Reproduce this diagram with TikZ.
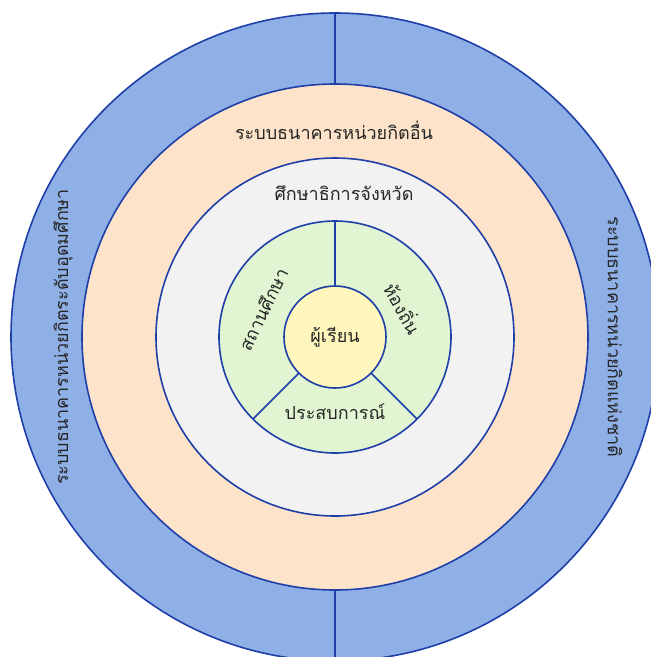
\documentclass[tikz,border=0pt]{standalone}
\usepackage{fontspec}
\newfontfamily\thai[Script=Thai]{Loma}
\definecolor{ringblue}{HTML}{8FB0E6}
\definecolor{ringpeach}{HTML}{FDE3C9}
\definecolor{ringgray}{HTML}{F2F2F2}
\definecolor{ringgreen}{HTML}{E1F5D2}
\definecolor{coreyellow}{HTML}{FFF6BD}
\definecolor{edgeblue}{HTML}{1F3FA8}
\definecolor{txt}{HTML}{262626}
\tikzset{
  ring/.style={circle, draw=edgeblue, line width=1.6pt, inner sep=0pt, outer sep=0pt},
  sep/.style={draw=edgeblue, line width=1.6pt},
  lbl/.style={font=\thai\fontsize{18}{21}\selectfont, text=txt, inner sep=1pt}
}
\begin{document}
\begin{tikzpicture}[x=1pt,y=-1pt]
\useasboundingbox (0,0) rectangle (651,657);
\clip (0,0) rectangle (651,657);
\node[ring, fill=ringblue, minimum size=648pt] (outer) at (335,337) {};
\node[ring, fill=ringpeach, minimum size=506pt] (peach) at (335,337) {};
\node[ring, fill=ringgray, minimum size=358pt] (gray) at (335,337) {};
\node[ring, fill=ringgreen, minimum size=232pt] (green) at (335,337) {};
\node[ring, fill=coreyellow, minimum size=102pt] (core) at (335,337) {};
\draw[sep] (outer.north) -- (peach.north);
\draw[sep] (peach.south) -- (outer.south);
\draw[sep] (core.north) -- (green.north);
\draw[sep] (core.south west) -- (green.south west);
\draw[sep] (core.south east) -- (green.south east);
\node[lbl] (learner) at (335,337) {ผู้เรียน};
\node[lbl, rotate=64] (school) at (263,309) {สถานศึกษา};
\node[lbl, rotate=-61] (local) at (404,308) {ห้องถิ่น};
\node[lbl] (exp) at (335,412) {ประสบการณ์};
\node[lbl] (prov) at (344,193) {ศึกษาธิการจังหวัด};
\node[lbl] (other) at (334,130) {ระบบธนาคารหน่วยกิตอื่น};
\node[lbl, rotate=90] (higher) at (63,337) {ระบบธนาคารหน่วยกิตระดับอุดมศึกษา};
\node[lbl, rotate=-90] (national) at (615,337) {ระบบธนาคารหน่วยกิตแห่งชาติ};
\end{tikzpicture}
\end{document}
